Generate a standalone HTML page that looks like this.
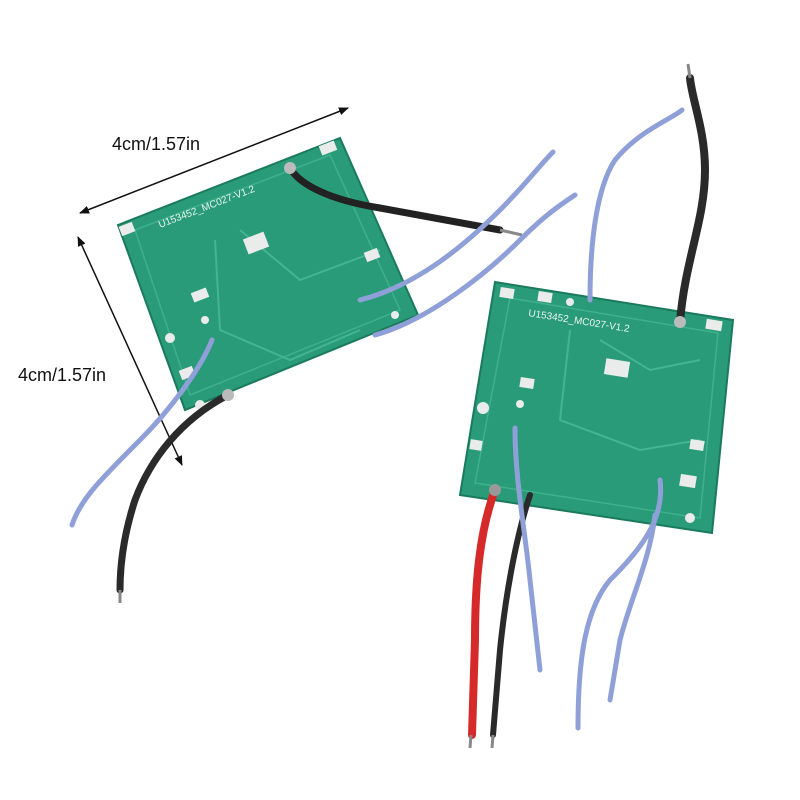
<!DOCTYPE html>
<html><head><meta charset="utf-8"><style>
html,body{margin:0;padding:0;background:#fff;width:800px;height:800px;overflow:hidden}
svg{display:block}
text{font-family:"Liberation Sans",sans-serif}
</style></head><body>
<svg width="800" height="800" viewBox="0 0 800 800" xmlns="http://www.w3.org/2000/svg">
<defs>
<marker id="ar" markerWidth="10" markerHeight="10" refX="9" refY="5" orient="auto-start-reverse" markerUnits="userSpaceOnUse"><path d="M0,1 L10,5 L0,9 Z" fill="#111"/></marker>
</defs>
<rect width="800" height="800" fill="#fff"/>

<!-- dimension lines -->
<line x1="80" y1="213" x2="348" y2="108" stroke="#111" stroke-width="1.5" marker-start="url(#ar)" marker-end="url(#ar)"/>
<text x="112" y="150" font-size="18" fill="#111">4cm/1.57in</text>
<line x1="78" y1="237" x2="182" y2="465" stroke="#111" stroke-width="1.5" marker-start="url(#ar)" marker-end="url(#ar)"/>
<text x="18" y="381" font-size="18" fill="#111">4cm/1.57in</text>

<!-- left board -->
<polygon points="118,225 340,138 418,315 185,410" fill="#2a9b78" stroke="#1a7a5c" stroke-width="2"/>
<polygon points="135,230 330,155 400,310 190,395" fill="none" stroke="#3fb08c" stroke-width="1.5"/>
<path d="M215,240 L220,330 L290,360 L360,330 M240,230 L300,280 L380,250" stroke="#45b490" stroke-width="2" fill="none"/>
<text x="160" y="228" font-size="10" fill="#e8f5ef" transform="rotate(-21 160 228)">U153452_MC027-V1.2</text>
<g fill="#e9ecea">
<rect x="120" y="224" width="14" height="10" transform="rotate(-21 127 229)"/>
<rect x="320" y="143" width="16" height="10" transform="rotate(-21 328 148)"/>
<rect x="192" y="290" width="16" height="10" transform="rotate(-21 200 295)"/>
<rect x="365" y="250" width="14" height="10" transform="rotate(-21 372 255)"/>
<rect x="180" y="368" width="14" height="10" transform="rotate(-21 187 373)"/>
<rect x="245" y="235" width="22" height="16" transform="rotate(-21 256 243)"/>
<circle cx="170" cy="338" r="5"/><circle cx="200" cy="405" r="5"/><circle cx="205" cy="320" r="4"/><circle cx="395" cy="315" r="4"/>
</g>
<!-- left wires -->
<path d="M290,168 C300,185 330,200 380,208 L500,230" stroke="#222" stroke-width="7" fill="none" stroke-linecap="round"/>
<line x1="500" y1="230" x2="522" y2="235" stroke="#888" stroke-width="3"/>
<path d="M360,300 C420,285 470,240 500,210 C525,185 540,165 553,152" stroke="#8fa0d8" stroke-width="5" fill="none" stroke-linecap="round"/>
<path d="M375,335 C430,320 490,270 520,240 C545,215 560,205 575,195" stroke="#8fa0d8" stroke-width="5" fill="none" stroke-linecap="round"/>
<path d="M212,340 C200,370 170,410 140,440 C100,480 80,500 72,525" stroke="#8fa0d8" stroke-width="5" fill="none" stroke-linecap="round"/>
<path d="M228,395 C180,420 150,460 135,500 C122,540 120,570 120,590" stroke="#2a2a2a" stroke-width="7" fill="none" stroke-linecap="round"/>
<line x1="120" y1="590" x2="120" y2="603" stroke="#888" stroke-width="3"/>
<circle cx="228" cy="395" r="6" fill="#bbb"/><circle cx="290" cy="168" r="6" fill="#bbb"/>

<!-- right board -->
<polygon points="495,282 733,320 712,533 460,495" fill="#2a9b78" stroke="#1a7a5c" stroke-width="2"/>
<polygon points="510,298 718,333 700,518 475,483" fill="none" stroke="#3fb08c" stroke-width="1.5"/>
<path d="M570,330 L560,420 L640,450 L700,440 M600,340 L650,370 L700,360" stroke="#45b490" stroke-width="2" fill="none"/>
<text x="528" y="316" font-size="10" fill="#e8f5ef" transform="rotate(9 528 316)">U153452_MC027-V1.2</text>
<g fill="#e9ecea">
<rect x="500" y="288" width="14" height="10" transform="rotate(9 507 293)"/>
<rect x="538" y="292" width="14" height="10" transform="rotate(9 545 297)"/>
<rect x="706" y="320" width="16" height="10" transform="rotate(9 714 325)"/>
<rect x="520" y="378" width="14" height="10" transform="rotate(9 527 383)"/>
<rect x="690" y="440" width="14" height="10" transform="rotate(9 697 445)"/>
<rect x="470" y="440" width="12" height="10" transform="rotate(9 476 445)"/>
<rect x="680" y="475" width="16" height="12" transform="rotate(9 688 481)"/>
<rect x="605" y="360" width="24" height="16" transform="rotate(9 617 368)"/>
<circle cx="483" cy="408" r="6"/><circle cx="690" cy="518" r="5"/><circle cx="570" cy="302" r="4"/><circle cx="520" cy="404" r="4"/>
</g>
<!-- right wires -->
<path d="M680,322 C685,260 705,220 705,170 C705,130 692,100 690,78" stroke="#2a2a2a" stroke-width="8" fill="none" stroke-linecap="round"/>
<line x1="690" y1="78" x2="688" y2="64" stroke="#888" stroke-width="3"/>
<path d="M590,300 C590,250 595,190 615,160 C640,130 670,120 682,110" stroke="#8fa0d8" stroke-width="5" fill="none" stroke-linecap="round"/>
<path d="M495,490 C480,530 475,580 475,640 L472,735" stroke="#d62a2a" stroke-width="8" fill="none" stroke-linecap="round"/>
<line x1="471" y1="735" x2="470" y2="748" stroke="#888" stroke-width="3"/>
<path d="M530,495 C515,540 505,600 500,650 L493,735" stroke="#2a2a2a" stroke-width="6" fill="none" stroke-linecap="round"/>
<line x1="493" y1="735" x2="492" y2="748" stroke="#888" stroke-width="3"/>
<path d="M515,428 C515,480 525,530 530,580 L540,670" stroke="#8fa0d8" stroke-width="5" fill="none" stroke-linecap="round"/>
<path d="M660,480 C665,520 640,550 610,580 C585,610 578,660 578,728" stroke="#8fa0d8" stroke-width="5" fill="none" stroke-linecap="round"/>
<path d="M655,515 C650,560 630,600 620,640 L610,700" stroke="#8fa0d8" stroke-width="5" fill="none" stroke-linecap="round"/>
<circle cx="495" cy="490" r="6" fill="#999"/><circle cx="680" cy="322" r="6" fill="#bbb"/>
</svg>
</body></html>
